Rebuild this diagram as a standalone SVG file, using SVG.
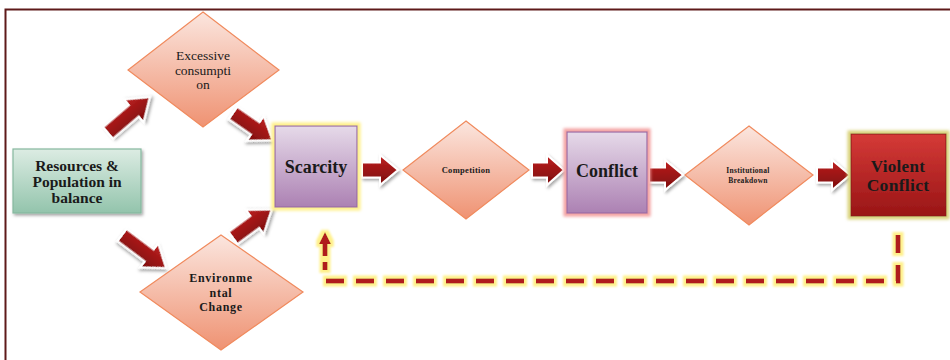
<svg xmlns="http://www.w3.org/2000/svg" width="950" height="360" viewBox="0 0 950 360">
<defs>
<linearGradient id="gDia" x1="0" y1="0" x2="0" y2="1"><stop offset="0" stop-color="#fbe6df"/><stop offset="1" stop-color="#ef9272"/></linearGradient>
<linearGradient id="gGreen" x1="0" y1="0" x2="0" y2="1"><stop offset="0" stop-color="#dcece3"/><stop offset="1" stop-color="#93c4ac"/></linearGradient>
<linearGradient id="gPurp" x1="0" y1="0" x2="0" y2="1"><stop offset="0" stop-color="#e6dae9"/><stop offset="1" stop-color="#ac81b3"/></linearGradient>
<linearGradient id="gRed" x1="0" y1="0" x2="0" y2="1"><stop offset="0" stop-color="#d53a37"/><stop offset="1" stop-color="#991516"/></linearGradient>
<linearGradient id="gArr" x1="0" y1="0" x2="0" y2="1"><stop offset="0" stop-color="#bf2020"/><stop offset="1" stop-color="#7a0c0c"/></linearGradient>
<filter id="shadow" x="-30%" y="-30%" width="160%" height="160%"><feDropShadow dx="1.5" dy="2" stdDeviation="1.5" flood-color="#000" flood-opacity="0.35"/></filter>
<filter id="glowY" x="-20%" y="-20%" width="140%" height="140%"><feMorphology in="SourceAlpha" operator="dilate" radius="3" result="d"/><feGaussianBlur in="d" stdDeviation="1.5" result="b"/><feFlood flood-color="#fff08a"/><feComposite in2="b" operator="in" result="g"/><feMerge><feMergeNode in="g"/><feMergeNode in="SourceGraphic"/></feMerge></filter>
<filter id="glowP" x="-20%" y="-20%" width="140%" height="140%"><feMorphology in="SourceAlpha" operator="dilate" radius="3" result="d"/><feGaussianBlur in="d" stdDeviation="1.5" result="b"/><feFlood flood-color="#f3a2a2"/><feComposite in2="b" operator="in" result="g"/><feMerge><feMergeNode in="g"/><feMergeNode in="SourceGraphic"/></feMerge></filter>
<filter id="glowO" x="-20%" y="-20%" width="140%" height="140%"><feMorphology in="SourceAlpha" operator="dilate" radius="3" result="d"/><feGaussianBlur in="d" stdDeviation="1.5" result="b"/><feFlood flood-color="#d9d27a"/><feComposite in2="b" operator="in" result="g"/><feMerge><feMergeNode in="g"/><feMergeNode in="SourceGraphic"/></feMerge></filter>
<filter id="glowD" x="-5%" y="-20%" width="110%" height="140%"><feMorphology in="SourceAlpha" operator="dilate" radius="2.5" result="d"/><feGaussianBlur in="d" stdDeviation="1.2" result="b"/><feFlood flood-color="#fff08a"/><feComposite in2="b" operator="in" result="g"/><feMerge><feMergeNode in="g"/><feMergeNode in="SourceGraphic"/></feMerge></filter>
<marker id="head" markerUnits="userSpaceOnUse" markerWidth="12" markerHeight="12" refX="0" refY="6" orient="auto"><path d="M0,0 L12,6 L0,12 Z" fill="#b01c1c"/></marker>
<style>
.dia{fill:url(#gDia);stroke:#f08a5d;stroke-width:1.2}
.arr{fill:url(#gArr);stroke:#fff;stroke-width:2;filter:url(#shadow)}
.t{font-family:"Liberation Serif","Times New Roman",serif;text-anchor:middle;fill:#1a1a1a}
.b{font-weight:bold}
.dash{fill:none;stroke:#b01c1c;stroke-width:5}
</style>
</defs>
<path d="M5.5,360 V9.5 H950" fill="none" stroke="#5e1a1a" stroke-width="2"/>
<g id="connectors">
<path class="arr" transform="translate(108,133) rotate(-40.6)" d="M0,-7.5 H34 V-15 L55,0 L34,15 V7.5 H0 Z"/>
<path class="arr" transform="translate(233,113) rotate(34.7)" d="M0,-7.5 H27 V-15 L48,0 L27,15 V7.5 H0 Z"/>
<path class="arr" transform="translate(122,235) rotate(36.9)" d="M0,-7.5 H34 V-15 L55,0 L34,15 V7.5 H0 Z"/>
<path class="arr" transform="translate(233,238) rotate(-36.4)" d="M0,-7.5 H27 V-15 L48,0 L27,15 V7.5 H0 Z"/>
<path class="arr" transform="translate(362,170)" d="M0,-7.5 H18 V-15 L36,0 L18,15 V7.5 H0 Z"/>
<path class="arr" transform="translate(532,170)" d="M0,-7.5 H15 V-15 L32,0 L15,15 V7.5 H0 Z"/>
<path class="arr" transform="translate(649,175)" d="M0,-7.5 H16 V-15 L34,0 L16,15 V7.5 H0 Z"/>
<path class="arr" transform="translate(817,175)" d="M0,-7.5 H15 V-15 L33,0 L15,15 V7.5 H0 Z"/>
<g filter="url(#glowD)">
<path class="dash" d="M898,235 V281 H325 V262" stroke-dasharray="18 12"/>
<path class="dash" d="M325,256 V244" marker-end="url(#head)"/>
</g>
</g>
<g id="resources">
<rect x="13" y="149" width="128" height="64" fill="url(#gGreen)" stroke="#86b89f" stroke-width="1.2" filter="url(#shadow)"/>
<text class="t b" x="77" y="171" font-size="15.5">Resources &amp;</text>
<text class="t b" x="77" y="187" font-size="15.5">Population in</text>
<text class="t b" x="77" y="203" font-size="15.5">balance</text>
</g>
<g id="excessive">
<path class="dia" d="M203,12 L279,70 L203,127 L128,70 Z"/>
<text class="t" x="203" y="60" font-size="13.5" fill="#333">Excessive</text>
<text class="t" x="203" y="74.5" font-size="13.5" fill="#333">consumpti</text>
<text class="t" x="203" y="89" font-size="13.5" fill="#333">on</text>
</g>
<g id="environmental">
<path class="dia" d="M221,235 L303,292 L221,350 L140,292 Z"/>
<text class="t b" x="221" y="282" font-size="12" letter-spacing="0.7">Environme</text>
<text class="t b" x="221" y="297" font-size="12" letter-spacing="0.7">ntal</text>
<text class="t b" x="221" y="311" font-size="12" letter-spacing="0.7">Change</text>
</g>
<g id="scarcity">
<rect x="275" y="126" width="82" height="81" fill="url(#gPurp)" stroke="#9a6aa3" stroke-width="1.2" filter="url(#glowY)"/>
<text class="t b" x="316" y="173" font-size="18">Scarcity</text>
</g>
<g id="competition">
<path class="dia" d="M466,121 L529,170 L466,219 L403,170 Z"/>
<text class="t b" x="466" y="173" font-size="8.5" letter-spacing="0.3">Competition</text>
</g>
<g id="conflict">
<rect x="567" y="132" width="80" height="81" fill="url(#gPurp)" stroke="#9a6aa3" stroke-width="1.2" filter="url(#glowP)"/>
<text class="t b" x="607" y="177" font-size="18">Conflict</text>
</g>
<g id="institutional">
<path class="dia" d="M749,126 L813,175 L749,225 L685,175 Z"/>
<text class="t b" x="748" y="173" font-size="7.5" letter-spacing="0.3">Institutional</text>
<text class="t b" x="748" y="183" font-size="7.5" letter-spacing="0.3">Breakdown</text>
</g>
<g id="violent">
<rect x="851" y="134" width="95" height="82" fill="url(#gRed)" stroke="#8a1a1a" stroke-width="1" filter="url(#glowO)"/>
<text class="t b" x="898" y="172" font-size="17" fill="#fff" letter-spacing="0.3">Violent</text>
<text class="t b" x="898" y="191" font-size="17.5" fill="#fff" letter-spacing="0.3">Conflict</text>
</g>
</svg>
